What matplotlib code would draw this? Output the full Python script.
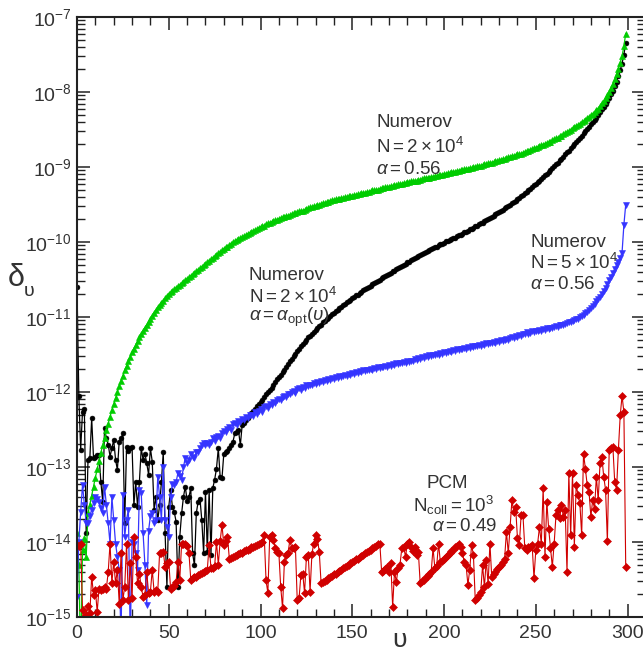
import matplotlib
matplotlib.use("Agg")
import matplotlib.pyplot as plt
import numpy as np
from matplotlib.ticker import MultipleLocator, LogLocator, NullFormatter

plt.rcParams["font.family"] = ["Liberation Sans", "DejaVu Sans"]
plt.rcParams["mathtext.fontset"] = "custom"
plt.rcParams["mathtext.rm"] = "Liberation Sans"
plt.rcParams["mathtext.it"] = "Liberation Sans:italic"
plt.rcParams["mathtext.bf"] = "Liberation Sans:bold"

# log10(delta_v) for v = 0, 1, 2, ...

# Numerov, N = 2x10^4, alpha = 0.56
green_log = [
    -13.88, -14.30, -15.60, -14.10, -13.95, -14.20, -13.62, -13.50, -13.38, -13.26,
    -13.14, -13.03, -12.92, -12.81, -12.71, -12.61, -12.51, -12.42, -12.33, -12.24,
    -12.16, -12.08, -12.00, -11.92, -11.85, -11.78, -11.71, -11.65, -11.59, -11.53,
    -11.47, -11.42, -11.37, -11.32, -11.27, -11.23, -11.18, -11.14, -11.10, -11.06,
    -11.02, -10.98, -10.94, -10.91, -10.87, -10.84, -10.81, -10.78, -10.75, -10.72,
    -10.69, -10.67, -10.65, -10.63, -10.61, -10.59, -10.57, -10.55, -10.53, -10.51,
    -10.49, -10.47, -10.45, -10.43, -10.41, -10.39, -10.37, -10.35, -10.33, -10.31,
    -10.29, -10.27, -10.25, -10.23, -10.21, -10.19, -10.17, -10.15, -10.13, -10.11,
    -10.09, -10.07, -10.06, -10.04, -10.02, -10.00, -9.99, -9.97, -9.96, -9.95,
    -9.93, -9.92, -9.91, -9.89, -9.88, -9.87, -9.85, -9.84, -9.83, -9.81,
    -9.80, -9.79, -9.78, -9.76, -9.75, -9.74, -9.73, -9.72, -9.71, -9.70,
    -9.69, -9.68, -9.67, -9.66, -9.65, -9.65, -9.64, -9.63, -9.62, -9.61,
    -9.60, -9.59, -9.58, -9.58, -9.57, -9.56, -9.55, -9.54, -9.53, -9.52,
    -9.52, -9.51, -9.50, -9.49, -9.48, -9.48, -9.47, -9.46, -9.45, -9.44,
    -9.44, -9.43, -9.43, -9.42, -9.41, -9.41, -9.40, -9.40, -9.39, -9.38,
    -9.38, -9.37, -9.37, -9.36, -9.36, -9.35, -9.34, -9.34, -9.33, -9.33,
    -9.32, -9.31, -9.31, -9.30, -9.30, -9.29, -9.28, -9.28, -9.27, -9.27,
    -9.26, -9.25, -9.25, -9.24, -9.24, -9.23, -9.23, -9.22, -9.21, -9.21,
    -9.20, -9.20, -9.19, -9.19, -9.18, -9.18, -9.17, -9.17, -9.16, -9.15,
    -9.15, -9.14, -9.14, -9.13, -9.13, -9.12, -9.12, -9.11, -9.10, -9.10,
    -9.09, -9.09, -9.08, -9.08, -9.07, -9.06, -9.06, -9.05, -9.05, -9.04,
    -9.04, -9.03, -9.02, -9.02, -9.01, -9.01, -9.00, -9.00, -8.99, -8.98,
    -8.98, -8.97, -8.96, -8.96, -8.95, -8.94, -8.94, -8.93, -8.92, -8.92,
    -8.91, -8.90, -8.89, -8.89, -8.88, -8.87, -8.86, -8.85, -8.85, -8.84,
    -8.83, -8.83, -8.82, -8.81, -8.80, -8.79, -8.78, -8.77, -8.76, -8.75,
    -8.74, -8.73, -8.72, -8.71, -8.70, -8.69, -8.68, -8.67, -8.66, -8.64,
    -8.63, -8.62, -8.61, -8.59, -8.58, -8.56, -8.55, -8.53, -8.52, -8.50,
    -8.48, -8.47, -8.45, -8.44, -8.42, -8.40, -8.39, -8.37, -8.35, -8.33,
    -8.31, -8.29, -8.27, -8.24, -8.22, -8.19, -8.15, -8.12, -8.08, -8.04,
    -8.00, -7.95, -7.89, -7.83, -7.76, -7.69, -7.61, -7.52, -7.39, -7.22,
]

# Numerov, N = 2x10^4, alpha = alpha_opt(v)
black_log = [
    -10.60, -12.05, -12.77, -12.26, -12.22, -13.88, -12.90, -12.88, -12.35, -12.88,
    -12.86, -12.84, -12.84, -13.20, -13.46, -12.48, -12.62, -12.70, -12.86, -12.75,
    -12.64, -12.90, -13.04, -12.66, -12.62, -12.55, -13.75, -12.73, -12.78, -12.75,
    -12.73, -13.51, -13.20, -13.53, -13.20, -12.75, -12.90, -12.82, -12.95, -13.10,
    -12.75, -12.93, -13.57, -13.40, -13.71, -13.51, -13.20, -12.80, -13.88, -14.60,
    -13.53, -13.31, -13.53, -13.60, -13.73, -14.60, -13.93, -13.62, -13.40, -13.26,
    -13.45, -13.40, -13.28, -14.15, -14.31, -13.62, -13.46, -13.42, -13.71, -14.15,
    -13.33, -14.13, -13.31, -14.17, -13.28, -13.17, -13.02, -12.75, -13.13, -13.15,
    -12.82, -12.80, -12.78, -12.75, -12.70, -12.66, -12.55, -12.53, -12.51, -12.71,
    -12.44, -12.41, -12.37, -12.34, -12.31, -12.28, -12.25, -12.22, -12.19, -12.16,
    -12.13, -12.10, -12.07, -12.03, -12.00, -11.97, -11.94, -11.90, -11.87, -11.83,
    -11.80, -11.77, -11.73, -11.70, -11.66, -11.63, -11.59, -11.56, -11.52, -11.49,
    -11.45, -11.42, -11.39, -11.36, -11.33, -11.30, -11.27, -11.25, -11.22, -11.20,
    -11.17, -11.15, -11.12, -11.10, -11.07, -11.05, -11.03, -11.01, -10.98, -10.96,
    -10.94, -10.92, -10.90, -10.88, -10.86, -10.84, -10.82, -10.80, -10.79, -10.77,
    -10.75, -10.73, -10.71, -10.70, -10.68, -10.66, -10.64, -10.63, -10.61, -10.60,
    -10.58, -10.56, -10.55, -10.53, -10.52, -10.50, -10.48, -10.47, -10.45, -10.44,
    -10.42, -10.41, -10.39, -10.38, -10.36, -10.35, -10.33, -10.32, -10.30, -10.29,
    -10.27, -10.26, -10.24, -10.23, -10.21, -10.20, -10.19, -10.17, -10.16, -10.14,
    -10.13, -10.12, -10.11, -10.09, -10.08, -10.07, -10.06, -10.04, -10.03, -10.02,
    -10.01, -9.99, -9.98, -9.97, -9.96, -9.95, -9.94, -9.92, -9.91, -9.90,
    -9.89, -9.87, -9.86, -9.85, -9.83, -9.82, -9.81, -9.79, -9.78, -9.76,
    -9.75, -9.74, -9.72, -9.71, -9.69, -9.68, -9.66, -9.65, -9.63, -9.62,
    -9.60, -9.58, -9.57, -9.55, -9.54, -9.52, -9.50, -9.48, -9.46, -9.45,
    -9.43, -9.41, -9.39, -9.37, -9.35, -9.33, -9.31, -9.29, -9.27, -9.24,
    -9.22, -9.20, -9.18, -9.16, -9.13, -9.11, -9.09, -9.06, -9.04, -9.01,
    -8.99, -8.96, -8.94, -8.91, -8.89, -8.86, -8.83, -8.80, -8.78, -8.75,
    -8.72, -8.69, -8.66, -8.64, -8.61, -8.58, -8.55, -8.52, -8.49, -8.46,
    -8.43, -8.40, -8.37, -8.34, -8.30, -8.27, -8.23, -8.20, -8.16, -8.12,
    -8.08, -8.03, -7.98, -7.92, -7.86, -7.79, -7.71, -7.62, -7.50, -7.35,
]

# Numerov, N = 5x10^4, alpha = 0.56
blue_log = [
    -14.73, -14.00, -13.60, -13.24, -13.50, -13.75, -13.75, -13.65, -13.57, -13.48,
    -13.40, -13.42, -13.46, -13.55, -13.62, -13.26, -13.50, -13.75, -14.02, -13.40,
    -13.70, -14.02, -14.20, -14.37, -15.30, -13.37, -13.93, -13.70, -13.57, -15.30,
    -14.00, -14.02, -14.15, -14.37, -13.31, -13.35, -13.88, -14.30, -14.84, -13.85,
    -13.65, -13.62, -13.75, -13.71, -13.13, -13.40, -13.71, -13.00, -13.70, -13.80,
    -13.93, -13.40, -13.22, -13.24, -13.20, -13.08, -13.12, -13.17, -13.00, -12.88,
    -12.95, -12.90, -12.82, -12.86, -12.88, -12.80, -12.80, -12.75, -12.71, -12.68,
    -12.71, -12.68, -12.70, -12.66, -12.62, -12.65, -12.60, -12.58, -12.61, -12.55,
    -12.52, -12.54, -12.49, -12.47, -12.50, -12.43, -12.41, -12.44, -12.38, -12.40,
    -12.36, -12.37, -12.33, -12.35, -12.31, -12.30, -12.32, -12.27, -12.29, -12.25,
    -12.23, -12.26, -12.20, -12.19, -12.21, -12.16, -12.17, -12.13, -12.14, -12.10,
    -12.09, -12.11, -12.06, -12.05, -12.07, -12.02, -12.03, -12.00, -11.99, -12.01,
    -11.96, -11.95, -11.97, -11.93, -11.94, -11.91, -11.92, -11.90, -11.91, -11.88,
    -11.89, -11.87, -11.88, -11.85, -11.86, -11.84, -11.85, -11.83, -11.84, -11.81,
    -11.82, -11.80, -11.81, -11.79, -11.80, -11.78, -11.77, -11.79, -11.76, -11.77,
    -11.75, -11.76, -11.73, -11.75, -11.72, -11.73, -11.71, -11.72, -11.70, -11.71,
    -11.69, -11.70, -11.68, -11.69, -11.67, -11.68, -11.66, -11.67, -11.65, -11.66,
    -11.64, -11.65, -11.63, -11.64, -11.62, -11.63, -11.61, -11.62, -11.60, -11.61,
    -11.59, -11.60, -11.58, -11.59, -11.56, -11.57, -11.55, -11.56, -11.54, -11.55,
    -11.52, -11.53, -11.51, -11.52, -11.50, -11.51, -11.49, -11.50, -11.48, -11.49,
    -11.47, -11.48, -11.46, -11.45, -11.46, -11.44, -11.45, -11.43, -11.44, -11.42,
    -11.43, -11.41, -11.42, -11.40, -11.41, -11.39, -11.40, -11.38, -11.39, -11.37,
    -11.38, -11.36, -11.37, -11.35, -11.36, -11.34, -11.35, -11.33, -11.34, -11.32,
    -11.33, -11.31, -11.32, -11.30, -11.29, -11.30, -11.28, -11.27, -11.28, -11.25,
    -11.26, -11.24, -11.25, -11.22, -11.23, -11.20, -11.22, -11.21, -11.19, -11.20,
    -11.18, -11.19, -11.17, -11.18, -11.16, -11.17, -11.15, -11.16, -11.14, -11.15,
    -11.13, -11.12, -11.13, -11.11, -11.10, -11.11, -11.09, -11.08, -11.07, -11.06,
    -11.05, -11.04, -11.03, -11.02, -11.00, -10.99, -10.97, -10.95, -10.93, -10.91,
    -10.88, -10.85, -10.82, -10.79, -10.76, -10.73, -10.69, -10.65, -10.61, -10.56,
    -10.51, -10.46, -10.41, -10.36, -10.31, -10.26, -10.21, -10.14, -9.77, -9.50,
]

# PCM, N_coll = 10^3, alpha = 0.49
red_log = [
    -14.04, -14.05, -14.03, -14.90, -15.30, -14.97, -14.85, -14.95, -14.46, -14.70,
    -14.64, -14.93, -14.62, -14.64, -14.62, -14.60, -14.62, -14.40, -14.02, -14.55,
    -14.26, -14.55, -14.37, -14.82, -14.15, -14.77, -14.60, -14.02, -14.77, -14.28,
    -14.75, -13.93, -14.20, -14.55, -14.42, -14.60, -14.73, -14.70, -14.40, -14.68,
    -14.66, -14.37, -14.66, -14.64, -14.66, -14.15, -14.14, -14.13, -14.33, -14.28,
    -14.26, -14.62, -14.60, -14.58, -14.53, -14.26, -14.50, -14.02, -14.02, -14.02,
    -14.05, -14.15, -14.50, -14.48, -14.47, -14.46, -14.44, -14.42, -14.41, -14.40,
    -14.38, -14.37, -14.04, -14.35, -14.34, -14.32, -14.00, -14.30, -13.99, -13.77,
    -14.04, -13.99, -13.93, -14.22, -14.21, -14.20, -14.19, -14.17, -14.16, -14.15,
    -14.14, -14.12, -14.11, -14.10, -14.09, -14.07, -14.06, -14.05, -14.04, -14.02,
    -14.01, -14.00, -13.91, -14.51, -14.68, -13.93, -13.91, -13.97, -14.08, -14.13,
    -14.15, -14.60, -14.88, -14.26, -14.17, -14.15, -13.97, -14.08, -14.08, -14.06,
    -14.77, -14.75, -14.44, -14.42, -14.68, -14.20, -14.17, -14.66, -14.16, -14.02,
    -13.91, -13.96, -14.13, -14.55, -14.53, -14.52, -14.50, -14.48, -14.47, -14.45,
    -14.43, -14.42, -14.40, -14.38, -14.37, -14.35, -14.33, -14.32, -14.30, -14.28,
    -14.27, -14.25, -14.23, -14.22, -14.20, -14.18, -14.17, -14.15, -14.13, -14.12,
    -14.10, -14.08, -14.07, -14.05, -14.03, -14.02, -14.40, -14.38, -14.36, -14.33,
    -14.40, -14.28, -14.86, -14.40, -14.53, -14.35, -14.30, -14.08, -14.06, -14.20,
    -14.02, -14.00, -14.06, -14.12, -14.06, -14.17, -14.13, -14.55, -14.52, -14.50,
    -14.47, -14.45, -14.42, -14.40, -14.08, -14.35, -14.32, -14.02, -14.27, -14.25,
    -14.22, -14.20, -14.17, -14.15, -14.12, -14.10, -14.07, -14.05, -14.02, -14.06,
    -14.15, -14.26, -14.31, -14.57, -14.37, -14.04, -14.17, -14.77, -14.74, -14.70,
    -14.66, -14.31, -14.60, -14.24, -14.56, -14.02, -14.47, -14.43, -14.40, -14.36,
    -14.33, -14.30, -14.26, -14.22, -13.86, -14.15, -13.80, -13.44, -13.60, -13.53,
    -13.95, -14.04, -13.64, -13.64, -14.08, -14.10, -14.06, -14.07, -14.04, -14.48,
    -14.11, -14.02, -13.80, -14.02, -13.28, -14.20, -13.46, -13.82, -14.08, -14.33,
    -14.02, -13.64, -13.57, -13.68, -13.51, -13.66, -13.57, -14.40, -13.08, -13.91,
    -13.08, -14.06, -13.24, -13.37, -13.48, -13.91, -12.82, -13.02, -13.24, -13.33,
    -13.66, -13.44, -13.56, -13.13, -13.44, -12.95, -12.86, -13.13, -13.30, -13.99,
    -12.77, -12.75, -12.73, -13.20, -13.30, -12.77, -12.31, -12.05, -12.27, -14.33,
]

GREEN = "#00cc00"
BLUE = "#3535ff"
RED = "#d00000"
TEXT = "#333333"

fig = plt.figure(figsize=(6.43, 6.54), dpi=100)
ax = fig.add_axes([77 / 643, 37 / 654, 568 / 643, 600 / 654])

series = [
    (black_log, "black", "o", 3.5, 0.9),
    (green_log, GREEN, "^", 4.4, 0.9),
    (blue_log, BLUE, "v", 4.4, 0.9),
    (red_log, RED, "D", 3.6, 0.8),
]
for vals, col, mk, ms, lw in series:
    v = np.arange(len(vals))
    d = 10.0 ** np.array(vals)
    ax.plot(v, d, color=col, lw=lw, marker=mk, ms=ms, mec=col, mfc=col, mew=0.4)

ax.set_yscale("log")
ax.set_xlim(0, 309.5)
ax.set_ylim(1e-15, 1e-7)

ax.xaxis.set_major_locator(MultipleLocator(50))
ax.xaxis.set_minor_locator(MultipleLocator(10))
ax.yaxis.set_major_locator(LogLocator(base=10, numticks=20))
ax.yaxis.set_minor_locator(LogLocator(base=10, subs=np.arange(2, 10), numticks=20))
ax.yaxis.set_minor_formatter(NullFormatter())

ax.tick_params(which="both", direction="in", top=True, right=True,
               colors="#222222", labelcolor=TEXT)
ax.tick_params(which="major", length=9.5, width=1.1, labelsize=14)
ax.tick_params(axis="x", which="major", pad=6)
ax.tick_params(axis="y", which="major", pad=4)
ax.tick_params(which="minor", length=5.5, width=1.0)
for s in ax.spines.values():
    s.set_linewidth(1.5)
    s.set_color("#222222")

fs = 13.5
# Numerov N=2e4 alpha=0.56
ax.text(163, 10 ** -8.41, "Numerov", fontsize=fs, color=TEXT, va="center")
ax.text(163, 10 ** -8.73, r"$\mathrm{N}=2\times10^4$", fontsize=fs, color=TEXT, va="center")
ax.text(163, 10 ** -9.04, r"$\alpha=0.56$", fontsize=fs, color=TEXT, va="center")
# Numerov alpha_opt
ax.text(93.5, 10 ** -10.45, "Numerov", fontsize=fs, color=TEXT, va="center")
ax.text(93.5, 10 ** -10.73, r"$\mathrm{N}=2\times10^4$", fontsize=fs, color=TEXT, va="center")
ax.text(93.5, 10 ** -11.01, r"$\alpha=\alpha_{\mathrm{opt}}(\upsilon)$", fontsize=fs,
        color=TEXT, va="center")
# Numerov N=5e4
ax.text(247, 10 ** -10.01, "Numerov", fontsize=fs, color=TEXT, va="center")
ax.text(247, 10 ** -10.28, r"$\mathrm{N}=5\times10^4$", fontsize=fs, color=TEXT, va="center")
ax.text(247, 10 ** -10.57, r"$\alpha=0.56$", fontsize=fs, color=TEXT, va="center")
# PCM
ax.text(202, 10 ** -13.22, "PCM", fontsize=fs, color=TEXT, va="center", ha="center")
ax.text(205, 10 ** -13.51, r"$\mathrm{N}_{\mathrm{coll}}=10^3$", fontsize=fs, color=TEXT,
        va="center", ha="center")
ax.text(211, 10 ** -13.79, r"$\alpha=0.49$", fontsize=fs, color=TEXT, va="center", ha="center")

# axis labels
fig.text(399 / 643, 1 - 640 / 654, "\u03c5", fontsize=19, color=TEXT, ha="center", va="center")
fig.text(8 / 643, 1 - 278 / 654, "\u03b4", fontsize=22, color=TEXT, ha="left", va="center")
fig.text(24 / 643, 1 - 291 / 654, "\u03c5", fontsize=14, color=TEXT, ha="left", va="center")

fig.savefig("out.png", dpi=100)
